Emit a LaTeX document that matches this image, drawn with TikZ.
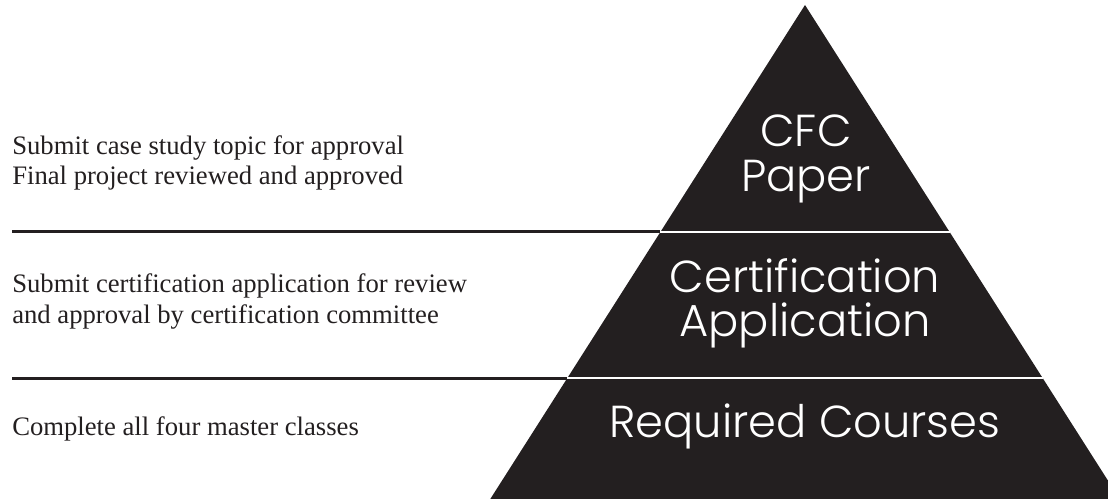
\documentclass[tikz,border=0pt]{standalone}
\usepackage{fontspec}
\setmainfont{Liberation Serif}
\newfontfamily\pyrfont{Poppins}[UprightFont=* Light]
\definecolor{ink}{HTML}{231F20}
\begin{document}
\begin{tikzpicture}[x=0.75pt,y=-0.75pt,
  lefttext/.style={anchor=base west, inner sep=0, font=\fontsize{20}{24}\selectfont, text=ink},
  pyrtext/.style={anchor=base, inner sep=0, font=\pyrfont\fontsize{33.6}{40}\selectfont, text=white},
  blackrule/.style={draw=ink, line width=2.25pt},
  whiterule/.style={draw=white, line width=1.5pt}]
\useasboundingbox (0,0) rectangle (1108,499);
% pyramid
\coordinate (apex) at (805,5);
\coordinate (bl) at (490.3,499);
\coordinate (br) at (1119.7,499);
\fill[ink] (apex) -- (br) -- (bl) -- cycle;
% dividers
\coordinate (d1l) at (660.4,232);
\coordinate (d1r) at (949.6,232);
\coordinate (d2l) at (567.4,378);
\coordinate (d2r) at (1042.6,378);
\coordinate (r1s) at (12,232);
\coordinate (r2s) at (12,378);
\draw[blackrule] (r1s) -- (d1l);
\draw[blackrule] (r2s) -- (d2l);
\draw[whiterule] (d1l) -- (d1r);
\draw[whiterule] (d2l) -- (d2r);
% pyramid labels
\node[pyrtext] (cfc) at (806,147) {CFC};
\node[pyrtext] (paper) at (806,192) {Paper};
\node[pyrtext] (cert) at (805,293) {Certification};
\node[pyrtext] (appl) at (805,337) {Application};
\node[pyrtext] (req) at (805,437) {Required Courses};
% left texts
\node[lefttext] (t1a) at (12,155) {Submit case study topic for approval};
\node[lefttext] (t1b) at (12,185) {Final project reviewed and approved};
\node[lefttext] (t2a) at (12,293) {Submit certification application for review};
\node[lefttext] (t2b) at (12,324) {and approval by certification committee};
\node[lefttext] (t3) at (12,435) {Complete all four master classes};
\end{tikzpicture}
\end{document}
